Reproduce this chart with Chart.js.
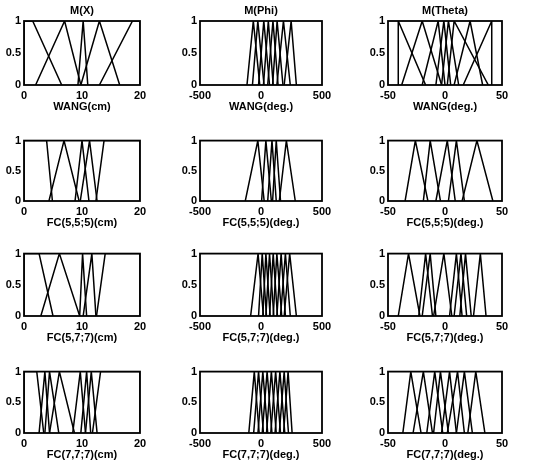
<!DOCTYPE html>
<html>
<head>
<meta charset="utf-8">
<script src="https://cdn.jsdelivr.net/npm/chart.js@4.4.1/dist/chart.umd.min.js"></script>
<style>
  body { margin: 0; background: #fff; width: 533px; height: 460px; position: relative; overflow: hidden; }
  canvas { position: absolute; }
</style>
</head>
<body>
<script>
// Funções de pertinência lidas da figura
// triângulo: [pé esq, pico, pé dir]   trapézio: [a, b, c, d]
const xWang      = [[0,0,1.5,6.5],[2,7,9.8],[9.3,10.2,11],[9.8,13,16.5],[13,18.7,20,20]];
const phiWang    = [[-115,-63,-10],[-70,-26,25],[-20,23,70],[20,60,100],[55,98,140],[95,132,180],[130,184,240],[190,247,290]];
const thetaWang  = [[-41,-41,-17],[-38,-20,-3],[-20,-6,0],[-8,-1,5],[-3,3,12],[2,8,38],[8,22,33],[16,41,41]];

const xFc555     = [[0,0,3.9,4.9],[4.3,6.9,9.5],[8.8,10,11.2],[9.7,11.3,12.6],[12.4,13.8,20,20]];
const phiFc555   = [[-129,-26,26],[5,40,85],[55,90,125],[95,125,160],[150,208,281]];
const thetaFc555 = [[-35,-26,-15],[-19,-13,-4],[-8,2,9],[3,10,17],[15,28,42]];

const xFc577     = [[0,0,2.6,5],[2.9,6.1,9.6],[9.6,10.1,10.8],[10.2,11.7,12.4],[12.5,14,20,20]];
const phiFc577   = [[-85,-24,20],[-20,10,45],[15,40,75],[40,70,105],[70,100,135],[100,130,170],[130,165,200],[160,200,240],[190,235,290]];
const thetaFc577 = [[-41,-32,-22],[-23,-17,-11],[-20,-13,-8],[-10,-1,6],[4,10,15],[8,14,19],[13,18,23],[25,31,36]];

const xFc777     = [[0,0,2.2,3.4],[2.6,3.6,4.4],[3.6,4.4,6.0],[4.4,6.1,8.7],[8.4,9.7,10.6],[9.8,10.8,11.5],[10.6,11.6,12.6],[11.8,13.2,20,20]];
const phiFc777   = [[-100,-55,-15],[-60,-20,20],[-25,15,55],[10,50,90],[45,85,125],[80,120,160],[115,155,195],[150,190,225],[185,222,255]];
const thetaFc777 = [[-37,-30,-21],[-28,-19,-11],[-16,-9,-2],[-10,-4,3],[-3,4,10],[2,11,17],[10,17,24],[20,27,35]];

const colTitles = ['M(X)', 'M(Phi)', 'M(Theta)'];
const xRanges = [[0, 20], [-500, 500], [-50, 50]];
const xTicks = [[0, 10, 20], [-500, 0, 500], [-50, 0, 50]];
const yTicks = [0, 0.5, 1];
const xLabels = [
  ['WANG(cm)', 'WANG(deg.)', 'WANG(deg.)'],
  ['FC(5,5;5)(cm)', 'FC(5,5;5)(deg.)', 'FC(5,5;5)(deg.)'],
  ['FC(5,7;7)(cm)', 'FC(5,7;7)(deg.)', 'FC(5,7;7)(deg.)'],
  ['FC(7,7;7)(cm)', 'FC(7,7;7)(deg.)', 'FC(7,7;7)(deg.)']
];
const panels = [
  [xWang, phiWang, thetaWang],
  [xFc555, phiFc555, thetaFc555],
  [xFc577, phiFc577, thetaFc577],
  [xFc777, phiFc777, thetaFc777]
];

// posição das áreas de plotagem
const colArea = [{ l: 24, w: 116 }, { l: 200, w: 122 }, { l: 388, w: 114 }];
const rowArea = [{ t: 21, h: 64 }, { t: 139, h: 62 }, { t: 252, h: 64 }, { t: 370, h: 63 }];
const YW = 24, XH = 31, PR = 16, TOPO = 19;

const fonte = { family: "'Liberation Sans', Arial, sans-serif", size: 11, weight: 'bold' };

// moldura completa em volta da área
const moldura = {
  id: 'moldura',
  afterDatasetsDraw(chart) {
    const a = chart.chartArea, ctx = chart.ctx;
    ctx.save();
    ctx.strokeStyle = '#000';
    ctx.lineWidth = 1.8;
    ctx.strokeRect(a.left, a.top, a.right - a.left, a.bottom - a.top);
    ctx.restore();
  }
};

function pontos(f) {
  if (f.length === 3) return [{ x: f[0], y: 0 }, { x: f[1], y: 1 }, { x: f[2], y: 0 }];
  return [{ x: f[0], y: 0 }, { x: f[1], y: 1 }, { x: f[2], y: 1 }, { x: f[3], y: 0 }];
}

panels.forEach((linha, r) => {
  linha.forEach((sets, c) => {
    const topo = r === 0 ? TOPO : 8;
    const cv = document.createElement('canvas');
    const w = YW + colArea[c].w + PR;
    const h = topo + rowArea[r].h + XH;
    cv.style.left = (colArea[c].l - YW) + 'px';
    cv.style.top = (rowArea[r].t - topo) + 'px';
    cv.style.width = w + 'px';
    cv.style.height = h + 'px';
    cv.width = w; cv.height = h;
    document.body.appendChild(cv);

    const scales = {
      x: {
        type: 'linear',
        min: xRanges[c][0],
        max: xRanges[c][1],
        grid: { display: false, drawTicks: false },
        border: { display: false },
        afterBuildTicks: s => { s.ticks = xTicks[c].map(v => ({ value: v })); },
        afterFit: s => { s.height = XH; },
        ticks: { color: '#000', font: fonte, padding: 4, maxRotation: 0 },
        title: {
          display: true,
          text: xLabels[r][c],
          color: '#000',
          font: fonte,
          padding: { top: 0, bottom: 2 }
        }
      },
      y: {
        min: 0,
        max: 1,
        grid: { display: false, drawTicks: false },
        border: { display: false },
        afterBuildTicks: s => { s.ticks = yTicks.map(v => ({ value: v })); },
        afterFit: s => { s.width = YW; },
        ticks: { color: '#000', font: fonte, padding: 3, callback: v => String(v) }
      }
    };
    // título da coluna como eixo superior (só na primeira linha)
    if (r === 0) {
      scales.xTopo = {
        type: 'linear',
        position: 'top',
        min: xRanges[c][0],
        max: xRanges[c][1],
        grid: { display: false, drawTicks: false },
        border: { display: false },
        ticks: { display: false },
        afterFit: s => { s.height = TOPO; },
        title: {
          display: true,
          text: colTitles[c],
          color: '#000',
          font: fonte,
          padding: { top: 2, bottom: 3 }
        }
      };
    }

    new Chart(cv.getContext('2d'), {
      type: 'scatter',
      data: {
        datasets: sets.map(f => ({
          data: pontos(f),
          showLine: true,
          borderColor: '#000',
          borderWidth: 1.5,
          pointRadius: 0,
          tension: 0
        }))
      },
      options: {
        responsive: false,
        animation: false,
        layout: { padding: { top: r === 0 ? 0 : 8, right: PR, left: 0, bottom: 0 } },
        plugins: {
          legend: { display: false },
          tooltip: { enabled: false }
        },
        scales: scales
      },
      plugins: [moldura]
    });
  });
});
</script>
</body>
</html>
